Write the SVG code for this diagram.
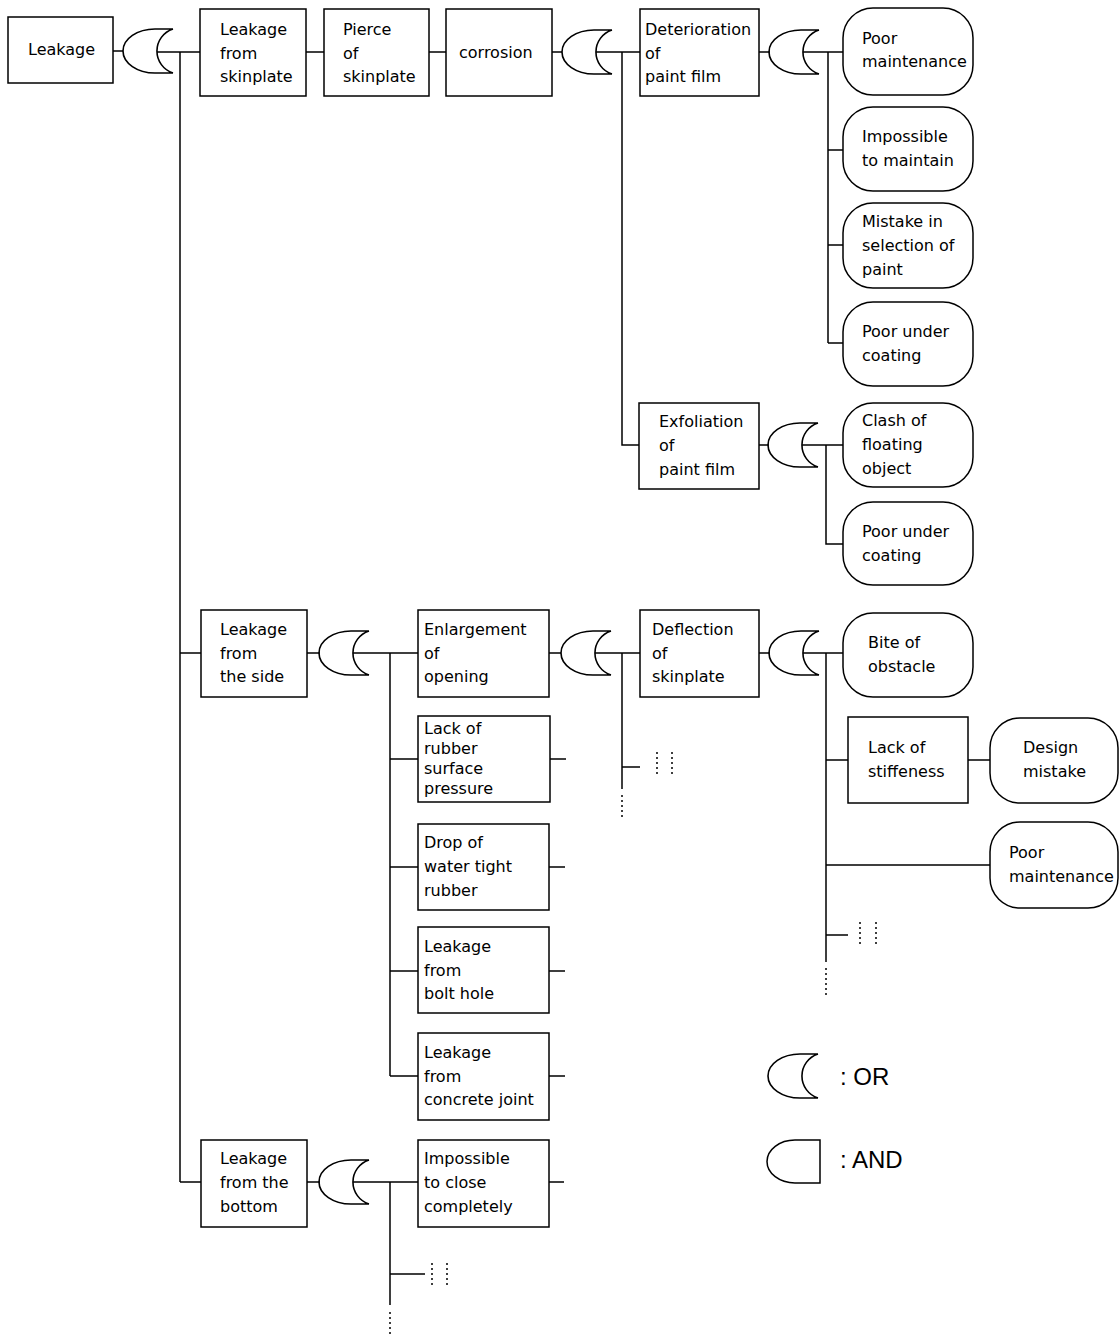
<svg xmlns="http://www.w3.org/2000/svg" xmlns:xlink="http://www.w3.org/1999/xlink" width="1120" height="1338" viewBox="0 0 1120 1338">
<style>
.b{fill:#fff;stroke:#000;stroke-width:1.5}
.c{fill:none;stroke:#000;stroke-width:1.5}
.d{fill:none;stroke:#000;stroke-width:1.5;stroke-dasharray:2 3}
.t{font-family:"DejaVu Sans",sans-serif;font-size:16px;fill:#000}
.l{font-family:"Liberation Sans",Arial,sans-serif;font-size:24px;fill:#000}
</style>
<defs>
<path id="or" d="M0,-22 H-18 A32 22 0 0 0 -18,22 H0 M0,-22 A23.1 23.1 0 0 0 0,22" fill="none" stroke="#000" stroke-width="1.6"/>
</defs>
<rect width="1120" height="1338" fill="#fff"/>
<g id="connectors">
<path class="c" d="M113,51 H123 M157,52 H200 M180,52 V1182 M180,653 H201 M180,1182 H201"/>
<path class="c" d="M306,52 H324 M429,52 H446 M552,52 H562 M596,52 H640 M622,52 V445 H639"/>
<path class="c" d="M759,52 H770 M803,52 H843 M828,52 V343 M828,150 H843 M828,245 H843 M828,343 H843"/>
<path class="c" d="M759,445 H769 M802,445 H843 M826,445 V544 H843"/>
<path class="c" d="M307,653 H320 M353,653 H418 M390,653 V1076 M390,759 H418 M390,867 H418 M390,971 H418 M390,1076 H418"/>
<path class="c" d="M550,759 H566 M549,867 H565 M549,971 H565 M549,1076 H565 M549,1182 H564"/>
<path class="c" d="M549,653 H561 M595,653 H640 M622,653 V789 M622,767 H640"/>
<path class="d" d="M622,795 V820 M657,752 V777 M672,752 V777"/>
<path class="c" d="M759,653 H770 M803,653 H843 M826,653 V962 M826,760 H848 M968,760 H990 M826,865 H990 M826,935 H848"/>
<path class="d" d="M826,968 V995 M860,922 V946 M876,922 V946"/>
<path class="c" d="M307,1182 H320 M353,1182 H418 M390,1182 V1305 M390,1274 H425"/>
<path class="d" d="M390,1312 V1336 M432,1263 V1287 M447,1263 V1287"/>
</g>
<g id="gates">
<use xlink:href="#or" x="173" y="51"/>
<use xlink:href="#or" x="612" y="52"/>
<use xlink:href="#or" x="819" y="52"/>
<use xlink:href="#or" x="818" y="445"/>
<use xlink:href="#or" x="369" y="653"/>
<use xlink:href="#or" x="611" y="653"/>
<use xlink:href="#or" x="819" y="653"/>
<use xlink:href="#or" x="369" y="1182"/>
</g>
<g id="n-leakage"><rect class="b" x="8" y="17" width="105" height="66"/><text class="t" x="28" y="55">Leakage</text></g>
<g id="n-skinplate"><rect class="b" x="200" y="9" width="106" height="87"/><text class="t"><tspan x="220" y="35">Leakage</tspan><tspan x="220" y="59">from</tspan><tspan x="220" y="82">skinplate</tspan></text></g>
<g id="n-pierce"><rect class="b" x="324" y="9" width="105" height="87"/><text class="t"><tspan x="343" y="35">Pierce</tspan><tspan x="343" y="59">of</tspan><tspan x="343" y="82">skinplate</tspan></text></g>
<g id="n-corrosion"><rect class="b" x="446" y="9" width="106" height="87"/><text class="t" x="459" y="58">corrosion</text></g>
<g id="n-deterioration"><rect class="b" x="640" y="9" width="119" height="87"/><text class="t"><tspan x="645" y="35">Deterioration</tspan><tspan x="645" y="59">of</tspan><tspan x="645" y="82">paint film</tspan></text></g>
<g id="n-poormaint1"><rect class="b" x="843" y="8" width="130" height="87" rx="30" ry="30"/><text class="t"><tspan x="862" y="44">Poor</tspan><tspan x="862" y="67">maintenance</tspan></text></g>
<g id="n-impmaint"><rect class="b" x="843" y="107" width="130" height="84" rx="30" ry="30"/><text class="t"><tspan x="862" y="142">Impossible</tspan><tspan x="862" y="166">to maintain</tspan></text></g>
<g id="n-mistake"><rect class="b" x="843" y="203" width="130" height="85" rx="30" ry="30"/><text class="t"><tspan x="862" y="227">Mistake in</tspan><tspan x="862" y="251">selection of</tspan><tspan x="862" y="275">paint</tspan></text></g>
<g id="n-undercoat1"><rect class="b" x="843" y="302" width="130" height="84" rx="30" ry="30"/><text class="t"><tspan x="862" y="337">Poor under</tspan><tspan x="862" y="361">coating</tspan></text></g>
<g id="n-exfoliation"><rect class="b" x="639" y="403" width="120" height="86"/><text class="t"><tspan x="659" y="427">Exfoliation</tspan><tspan x="659" y="451">of</tspan><tspan x="659" y="475">paint film</tspan></text></g>
<g id="n-clash"><rect class="b" x="843" y="403" width="130" height="84" rx="30" ry="30"/><text class="t"><tspan x="862" y="426">Clash of</tspan><tspan x="862" y="450">floating</tspan><tspan x="862" y="474">object</tspan></text></g>
<g id="n-undercoat2"><rect class="b" x="843" y="502" width="130" height="83" rx="30" ry="30"/><text class="t"><tspan x="862" y="537">Poor under</tspan><tspan x="862" y="561">coating</tspan></text></g>
<g id="n-side"><rect class="b" x="201" y="610" width="106" height="87"/><text class="t"><tspan x="220" y="635">Leakage</tspan><tspan x="220" y="659">from</tspan><tspan x="220" y="682">the side</tspan></text></g>
<g id="n-enlarge"><rect class="b" x="418" y="610" width="131" height="87"/><text class="t"><tspan x="424" y="635">Enlargement</tspan><tspan x="424" y="659">of</tspan><tspan x="424" y="682">opening</tspan></text></g>
<g id="n-lackrubber"><rect class="b" x="418" y="716" width="132" height="86"/><text class="t"><tspan x="424" y="734">Lack of</tspan><tspan x="424" y="754">rubber</tspan><tspan x="424" y="774">surface</tspan><tspan x="424" y="794">pressure</tspan></text></g>
<g id="n-drop"><rect class="b" x="418" y="824" width="131" height="86"/><text class="t"><tspan x="424" y="848">Drop of</tspan><tspan x="424" y="872">water tight</tspan><tspan x="424" y="896">rubber</tspan></text></g>
<g id="n-bolt"><rect class="b" x="418" y="927" width="131" height="86"/><text class="t"><tspan x="424" y="952">Leakage</tspan><tspan x="424" y="976">from</tspan><tspan x="424" y="999">bolt hole</tspan></text></g>
<g id="n-concrete"><rect class="b" x="418" y="1033" width="131" height="87"/><text class="t"><tspan x="424" y="1058">Leakage</tspan><tspan x="424" y="1082">from</tspan><tspan x="424" y="1105">concrete joint</tspan></text></g>
<g id="n-deflection"><rect class="b" x="640" y="610" width="119" height="87"/><text class="t"><tspan x="652" y="635">Deflection</tspan><tspan x="652" y="659">of</tspan><tspan x="652" y="682">skinplate</tspan></text></g>
<g id="n-bite"><rect class="b" x="843" y="613" width="130" height="84" rx="30" ry="30"/><text class="t"><tspan x="868" y="648">Bite of</tspan><tspan x="868" y="672">obstacle</tspan></text></g>
<g id="n-stiffness"><rect class="b" x="848" y="717" width="120" height="86"/><text class="t"><tspan x="868" y="753">Lack of</tspan><tspan x="868" y="777">stiffeness</tspan></text></g>
<g id="n-design"><rect class="b" x="990" y="718" width="128" height="85" rx="30" ry="30"/><text class="t"><tspan x="1023" y="753">Design</tspan><tspan x="1023" y="777">mistake</tspan></text></g>
<g id="n-poormaint2"><rect class="b" x="990" y="822" width="128" height="86" rx="30" ry="30"/><text class="t"><tspan x="1009" y="858">Poor</tspan><tspan x="1009" y="882">maintenance</tspan></text></g>
<g id="n-bottom"><rect class="b" x="201" y="1140" width="106" height="87"/><text class="t"><tspan x="220" y="1164">Leakage</tspan><tspan x="220" y="1188">from the</tspan><tspan x="220" y="1212">bottom</tspan></text></g>
<g id="n-close"><rect class="b" x="418" y="1140" width="131" height="87"/><text class="t"><tspan x="424" y="1164">Impossible</tspan><tspan x="424" y="1188">to close</tspan><tspan x="424" y="1212">completely</tspan></text></g>
<g id="legend">
<use xlink:href="#or" x="818" y="1076"/>
<text class="l" x="840" y="1085">: OR</text>
<path class="c" d="M820,1140 H795 A28 21.5 0 0 0 795,1183 H820 Z" stroke-width="1.6"/>
<text class="l" x="840" y="1168">: AND</text>
</g>
</svg>
